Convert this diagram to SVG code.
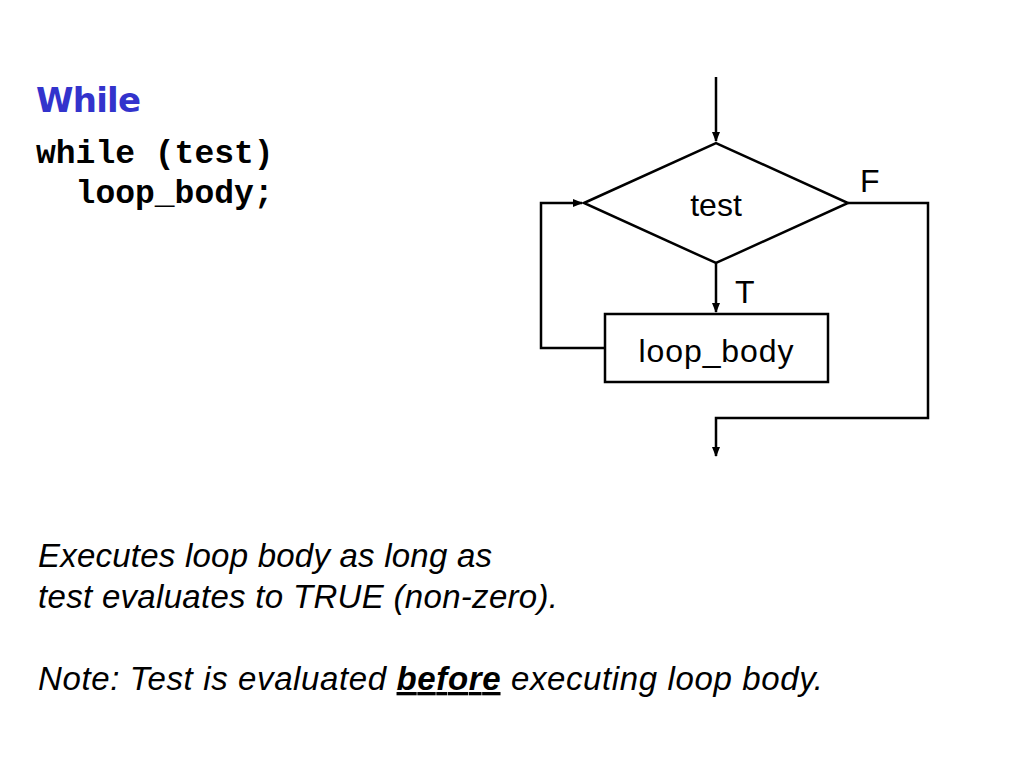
<svg xmlns="http://www.w3.org/2000/svg" width="1024" height="768" viewBox="0 0 1024 768">
<defs>
<marker id="ah" markerWidth="10" markerHeight="8" refX="9" refY="4" orient="auto" markerUnits="userSpaceOnUse"><path d="M0,0 L10,4 L0,8 Z" fill="#000"/></marker>
<style>
.ln{fill:none;stroke:#000;stroke-width:2.5}
.lb{font-family:"Liberation Sans",Arial,sans-serif;font-size:32px;fill:#000}
.it{font-family:"Liberation Sans",Arial,sans-serif;font-size:33px;font-style:italic;fill:#000}
.cd{font-family:"Liberation Mono","Courier New",monospace;font-size:33px;font-weight:bold;fill:#000}
</style>
</defs>
<rect width="1024" height="768" fill="#fff"/>
<text x="36" y="112" font-family="DejaVu Sans,Verdana,sans-serif" font-weight="bold" font-size="34" fill="#3333cc" textLength="105">While</text>
<text class="cd" x="36" y="163" xml:space="preserve">while (test)</text>
<text class="cd" x="36" y="203" xml:space="preserve">  loop_body;</text>
<g id="connectors">
<path class="ln" d="M716,77 V141" marker-end="url(#ah)"/>
<path class="ln" d="M716,263 V312" marker-end="url(#ah)"/>
<path class="ln" d="M605,348 H541 V203 H582" marker-end="url(#ah)"/>
<path class="ln" d="M848,203 H928 V418 H716 V456" marker-end="url(#ah)"/>
</g>
<g id="test"><path class="ln" d="M584,203 L716,143 L848,203 L716,263 Z"/><text class="lb" x="716" y="216" text-anchor="middle">test</text></g>
<g id="loop_body"><rect class="ln" x="605" y="314" width="223" height="68"/><text class="lb" x="716" y="362" text-anchor="middle" textLength="155">loop_body</text></g>
<text class="lb" x="860" y="192">F</text>
<text class="lb" x="735" y="303">T</text>
<text class="it" x="38" y="567" textLength="454">Executes loop body as long as</text>
<text class="it" x="38" y="608" textLength="520">test evaluates to TRUE (non-zero).</text>
<text class="it" x="38" y="690" textLength="785">Note: Test is evaluated <tspan font-weight="bold" text-decoration="underline">before</tspan> executing loop body.</text>
</svg>
